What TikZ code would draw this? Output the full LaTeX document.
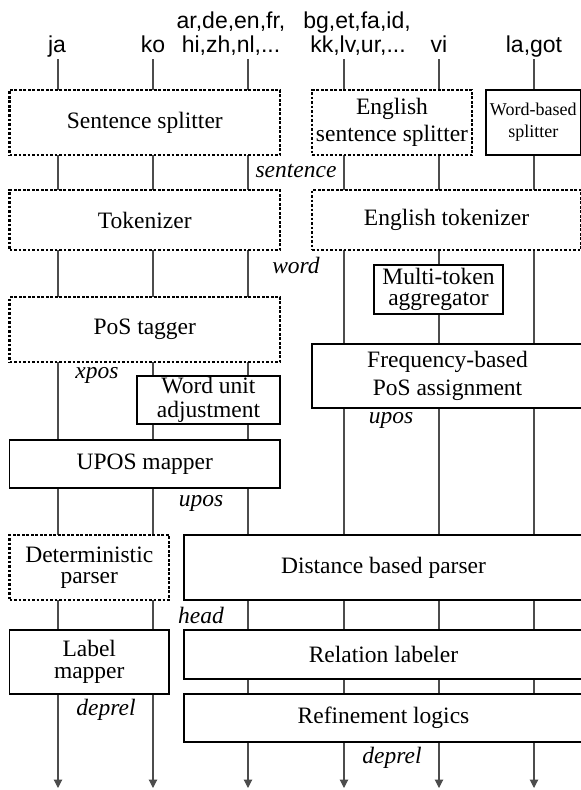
\documentclass[tikz,border=0pt]{standalone}
\usepackage{fontspec}
\setmainfont{Liberation Serif}
\newfontfamily\langfont{Liberation Sans}
\usetikzlibrary{arrows.meta}
\begin{document}
\begin{tikzpicture}[x=1pt,y=-1pt,
  boxstyle/.style={draw=black, line width=1.2pt, fill=white, inner sep=0pt, align=center,
    font=\fontsize{23.5}{21.5}\selectfont},
  dotbox/.style={boxstyle, line width=2.2pt, dash pattern=on 2.6pt off 1.9pt},
  flow/.style={draw=black!70, line width=1.1pt},
  arr/.style={flow, -{Triangle[length=8.5pt,width=8.5pt]}},
  lang/.style={font=\langfont\fontsize{23}{24}\selectfont, anchor=base, inner sep=0pt},
  tag/.style={font=\itshape\fontsize{23.5}{24}\selectfont, anchor=base, inner sep=0pt}]
\useasboundingbox (0,0) rectangle (581,790);
\clip (0,0) rectangle (581,790);

% language labels
\node[lang] (ja) at (57,52) {ja};
\node[lang] (ko) at (153,52) {ko};
\node[lang] (l3a) at (231,28) {ar,de,en,fr,};
\node[lang] (l3b) at (231,52) {hi,zh,nl,...};
\node[lang] (l4a) at (357,28) {bg,et,fa,id,};
\node[lang] (l4b) at (358,52) {kk,lv,ur,...};
\node[lang] (vi) at (439,52) {vi};
\node[lang] (lagot) at (534,52) {la,got};

% column end points
\foreach \i/\x in {1/58,2/153,3/248,4/344,5/439,6/534}{
  \coordinate (t\i) at (\x,59);
  \coordinate (b\i) at (\x,788);
}
\foreach \i in {1,...,6}{ \draw[arr] (t\i) -- (b\i); }

% boxes
\node[dotbox, minimum width=270.5pt, minimum height=65pt] (SS) at (144.75,122.5) {Sentence splitter};
\node[dotbox, minimum width=160pt, minimum height=65pt, font=\fontsize{23.5}{27}\selectfont] (ESS) at (392,122.5) {English\\sentence splitter};
\node[boxstyle, minimum width=94.5pt, minimum height=65pt, font=\fontsize{18}{22}\selectfont] (WBS) at (533.25,122.5) {Word-based\\splitter};
\node[dotbox, minimum width=270.5pt, minimum height=60pt] (TOK) at (144.75,220) {Tokenizer};
\node[dotbox, minimum width=269pt, minimum height=60pt] (ETOK) at (446.5,220) {English tokenizer};
\node[boxstyle, minimum width=129pt, minimum height=49pt] (MTA) at (438.5,289.5) {Multi-token\\aggregator};
\node[dotbox, minimum width=270.5pt, minimum height=65pt] (POS) at (144.75,329.5) {PoS tagger};
\node[boxstyle, minimum width=271pt, minimum height=64pt, font=\fontsize{23.5}{28}\selectfont] (FREQ) at (447.5,376) {Frequency-based\\PoS assignment};
\node[boxstyle, minimum width=143pt, minimum height=48pt, font=\fontsize{23.5}{24}\selectfont] (WUA) at (208.5,400) {Word unit\\adjustment};
\node[boxstyle, minimum width=270.5pt, minimum height=48pt] (UPOS) at (144.75,464) {UPOS mapper};
\node[dotbox, minimum width=159.5pt, minimum height=65pt] (DET) at (89.25,567.5) {Deterministic\\parser};
\node[boxstyle, minimum width=399pt, minimum height=65pt] (DIST) at (383.5,567.5) {Distance based parser};
\node[boxstyle, minimum width=159.5pt, minimum height=64pt] (LM) at (89.25,662) {Label\\mapper};
\node[boxstyle, minimum width=399pt, minimum height=49pt] (RL) at (383.5,654.5) {Relation labeler};
\node[boxstyle, minimum width=399pt, minimum height=48pt] (RF) at (383.5,718) {Refinement logics};

% data labels
\node[tag] (tsent) at (296,177) {sentence};
\node[tag] (tword) at (296,273) {word};
\node[tag] (txpos) at (97,378) {xpos};
\node[tag] (tupos1) at (391,423) {upos};
\node[tag] (tupos2) at (201,506) {upos};
\node[tag] (thead) at (201,623) {head};
\node[tag] (tdep1) at (106,715) {deprel};
\node[tag] (tdep2) at (392,763) {deprel};
\end{tikzpicture}
\end{document}
